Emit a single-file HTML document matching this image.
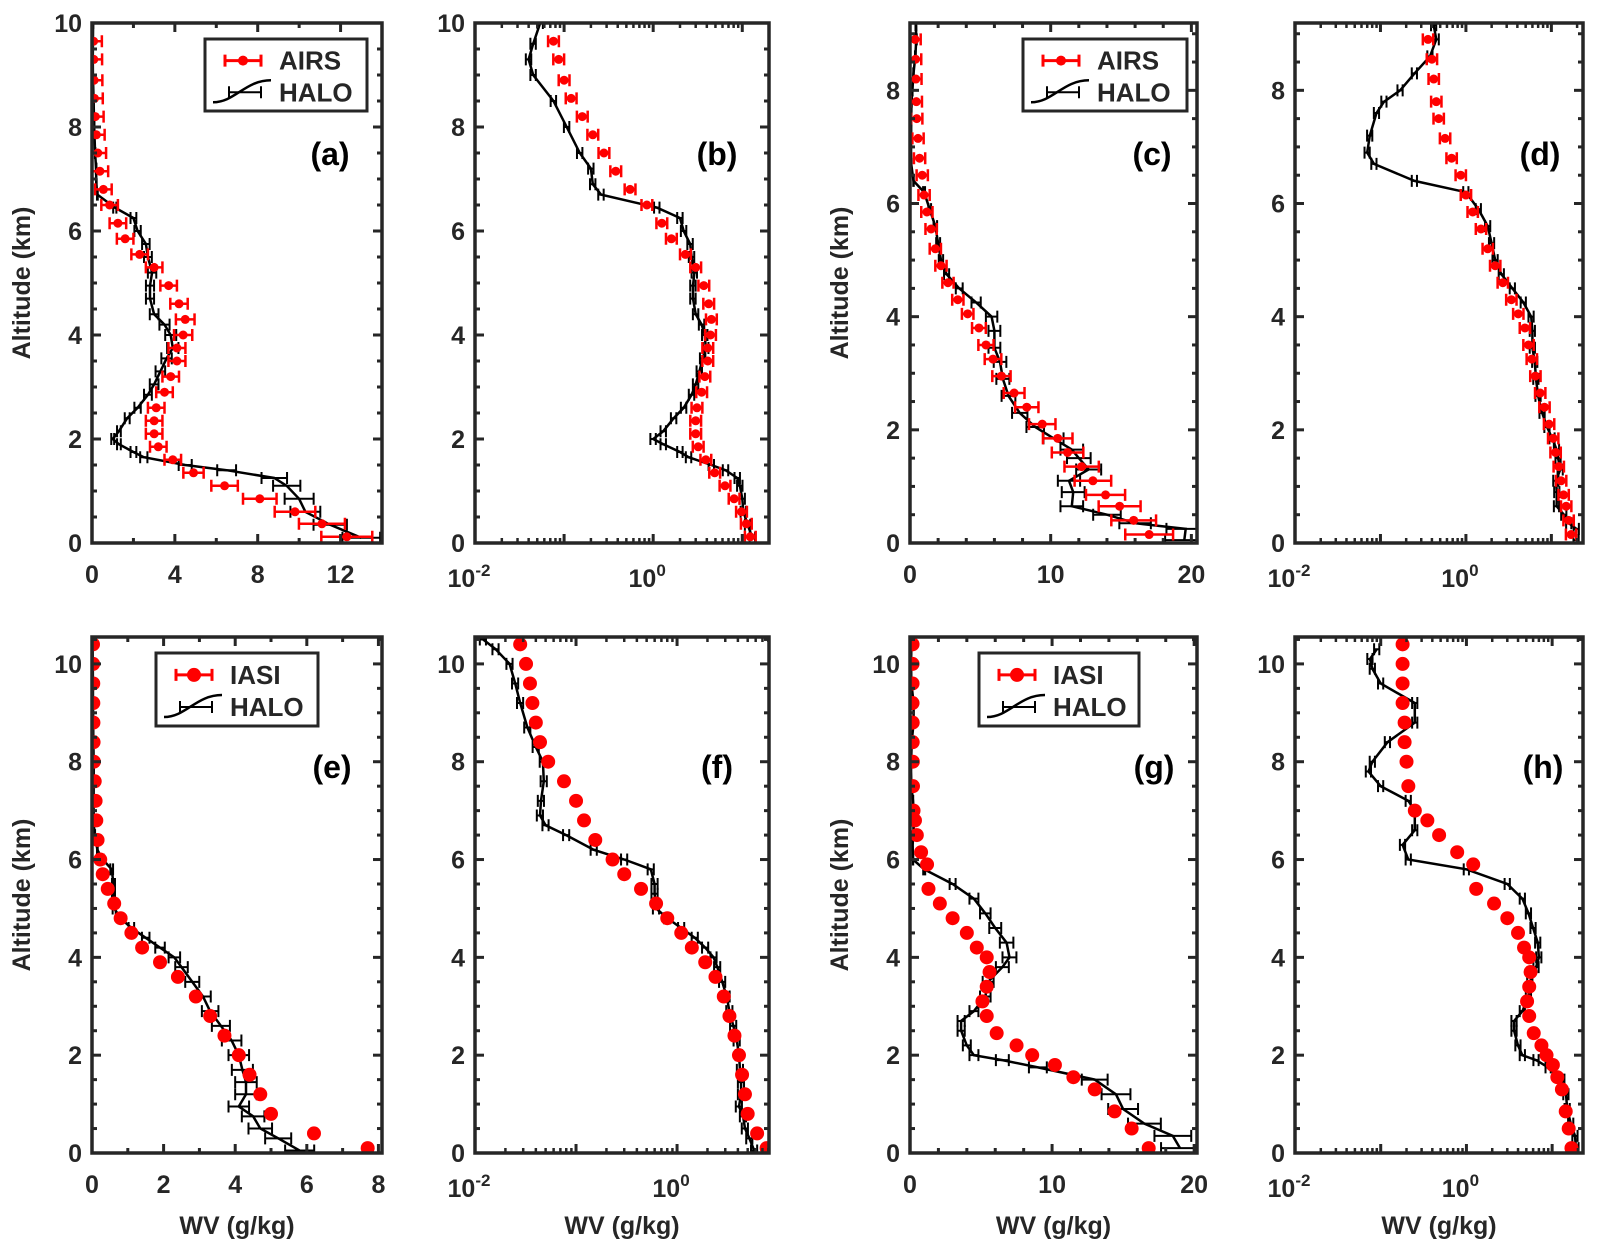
<!DOCTYPE html>
<html><head><meta charset="utf-8"><style>
html,body{margin:0;padding:0;background:#fff}
svg{display:block}
text{font-family:"Liberation Sans",Arial,sans-serif;font-weight:bold;fill:#262626}
</style></head><body>
<svg id="fig" width="1599" height="1256" viewBox="0 0 1599 1256" xmlns="http://www.w3.org/2000/svg"></svg>
<script>
// ---- Dataset 1 (panels a,b): AIRS vs HALO ----
const airs1Alt = [0.12,0.37,0.6,0.85,1.1,1.35,1.6,1.85,2.1,2.35,2.6,2.9,3.2,3.5,3.75,4.0,4.3,4.6,4.95,5.3,5.55,5.85,6.15,6.5,6.8,7.15,7.5,7.85,8.2,8.55,8.9,9.3,9.65];
const airs1Val = [12.3,11.1,9.8,8.1,6.4,4.9,3.9,3.2,3.0,3.0,3.1,3.5,3.8,4.1,4.1,4.4,4.5,4.2,3.7,3.0,2.3,1.6,1.25,0.85,0.55,0.38,0.28,0.21,0.16,0.12,0.1,0.087,0.076];
const halo1Alt = [0.1,0.35,0.6,0.85,1.1,1.25,1.4,1.5,1.65,1.75,1.9,2.0,2.15,2.4,2.6,2.85,3.05,3.3,3.55,3.75,4.0,4.2,4.4,4.7,4.95,5.2,5.5,5.75,6.0,6.25,6.45,6.7,6.9,7.2,7.5,8.0,8.5,9.0,9.3,9.6,10.0];
const halo1Val = [13.0,11.5,10.3,10.0,9.4,8.8,6.5,4.5,2.5,2.0,1.3,1.0,1.3,1.7,2.2,2.7,3.0,3.3,3.6,3.9,3.8,3.5,3.0,2.8,2.8,2.9,2.7,2.6,2.2,2.0,1.1,0.26,0.21,0.2,0.15,0.107,0.076,0.045,0.04,0.045,0.054];
// ---- Dataset 2 (panels c,d): AIRS vs HALO ----
const airs2Alt = [0.15,0.4,0.65,0.85,1.1,1.35,1.6,1.85,2.1,2.4,2.65,2.95,3.25,3.5,3.8,4.05,4.3,4.6,4.9,5.2,5.55,5.85,6.15,6.5,6.8,7.15,7.5,7.8,8.2,8.55,8.9];
const airs2Val = [17.0,15.9,14.9,13.9,13.0,12.2,11.2,10.5,9.4,8.3,7.4,6.5,5.9,5.4,4.9,4.1,3.4,2.7,2.2,1.8,1.5,1.2,1.0,0.87,0.68,0.57,0.48,0.45,0.42,0.4,0.36];
const halo2Alt = [0.05,0.25,0.35,0.5,0.65,0.9,1.1,1.3,1.5,1.65,1.85,2.05,2.3,2.6,2.9,3.2,3.45,3.75,4.0,4.25,4.5,4.75,5.0,5.3,5.6,5.9,6.2,6.4,6.7,6.9,7.2,7.6,7.8,8.0,8.3,8.6,8.9,9.15];
const halo2Val = [19.5,19.6,16.0,14.0,11.5,11.6,11.3,12.7,12.0,11.5,10.2,8.9,7.8,7.0,6.6,6.4,6.0,6.0,5.8,4.7,3.5,2.6,2.2,2.0,1.8,1.4,1.0,0.25,0.084,0.07,0.075,0.09,0.11,0.17,0.25,0.38,0.45,0.42];
// ---- Dataset 3 (panels e,f): IASI vs HALO ----
const iasi3Alt = [0.1,0.4,0.8,1.2,1.6,2.0,2.4,2.8,3.2,3.6,3.9,4.2,4.5,4.8,5.1,5.4,5.7,6.0,6.4,6.8,7.2,7.6,8.0,8.4,8.8,9.2,9.6,10.0,10.4];
const iasi3Val = [7.7,6.2,5.0,4.7,4.4,4.1,3.7,3.3,2.9,2.4,1.9,1.4,1.1,0.8,0.62,0.44,0.3,0.23,0.155,0.12,0.1,0.076,0.053,0.044,0.04,0.037,0.035,0.032,0.028];
const halo3Alt = [0.05,0.3,0.5,0.75,0.95,1.2,1.45,1.7,2.0,2.3,2.6,2.9,3.2,3.5,3.8,4.0,4.2,4.4,4.6,4.8,5.0,5.3,5.5,5.8,6.0,6.2,6.5,6.7,6.9,7.2,7.6,8.0,8.3,8.7,9.2,9.6,10.0,10.3,10.5];
const halo3Val = [5.8,5.2,4.7,4.5,4.1,4.3,4.3,4.2,4.1,3.9,3.6,3.3,3.1,2.8,2.5,2.3,1.9,1.5,1.1,0.8,0.62,0.6,0.6,0.55,0.3,0.15,0.08,0.05,0.044,0.045,0.048,0.047,0.04,0.033,0.028,0.025,0.022,0.016,0.012];
// ---- Dataset 4 (panels g,h): IASI vs HALO ----
const iasi4Alt = [0.1,0.5,0.85,1.3,1.55,1.8,2.0,2.2,2.45,2.8,3.1,3.4,3.7,4.0,4.2,4.5,4.8,5.1,5.4,5.9,6.15,6.5,6.8,7.0,7.5,8.0,8.4,8.8,9.2,9.6,10.0,10.4];
const iasi4Val = [16.8,15.6,14.4,13.0,11.5,10.2,8.6,7.5,6.1,5.4,5.1,5.4,5.6,5.4,4.7,4.0,3.0,2.1,1.3,1.2,0.78,0.48,0.35,0.25,0.21,0.2,0.19,0.19,0.18,0.18,0.18,0.18];
const halo4Alt = [0.1,0.35,0.6,0.9,1.2,1.5,1.75,1.9,2.0,2.2,2.5,2.7,2.9,3.2,3.5,3.8,4.0,4.3,4.6,4.9,5.2,5.5,5.8,6.0,6.3,6.6,7.0,7.2,7.5,7.8,8.0,8.4,8.8,9.2,9.6,9.9,10.1,10.3];
const halo4Val = [19.0,18.5,16.5,15.0,14.5,13.0,9.0,6.5,4.5,4.0,3.6,3.6,4.5,5.3,5.5,6.5,7.0,6.8,6.0,5.3,4.5,3.0,1.0,0.21,0.18,0.25,0.25,0.21,0.1,0.072,0.08,0.12,0.25,0.25,0.1,0.08,0.075,0.09];

const yTicksA = [0,2,4,6,8,10];
const yTicksC = [0,2,4,6,8];
const xTicksA = [0,4,8,12];
const xTicksC = [0,10,20];
const xTicksE = [0,2,4,6,8];
const logTickExp = [-2,0];

const NS='http://www.w3.org/2000/svg';
const svg=document.getElementById('fig');
function mk(tag,attrs,parent){const e=document.createElementNS(NS,tag);for(const k in attrs)e.setAttribute(k,attrs[k]);(parent||svg).appendChild(e);return e;}
const AX='#262626';

const panels=[
 {id:'a',L:92,R:382,T:23,B:543,xmin:0,xmax:14,log:false,ymax:10,yt:yTicksA,xt:xTicksA,xminor:2,ds:[airs1Alt,airs1Val,halo1Alt,halo1Val],sat:'AIRS',lab:[330,154],leg:[205,39,162,72],ylab:true,xlab:false},
 {id:'b',L:475,R:769,T:23,B:543,xmin:-2,xmax:1.3,log:true,ymax:10,yt:yTicksA,ds:[airs1Alt,airs1Val,halo1Alt,halo1Val],sat:'AIRS',lab:[717,154]},
 {id:'c',L:910,R:1197,T:23,B:543,xmin:0,xmax:20.4,log:false,ymax:9.19,yt:yTicksC,xt:xTicksC,xminor:2,ds:[airs2Alt,airs2Val,halo2Alt,halo2Val],sat:'AIRS',lab:[1152,154],leg:[1023,39,164,72],ylab:true},
 {id:'d',L:1295,R:1583,T:23,B:543,xmin:-2,xmax:1.37,log:true,ymax:9.19,yt:yTicksC,ds:[airs2Alt,airs2Val,halo2Alt,halo2Val],sat:'AIRS',lab:[1540,154]},
 {id:'e',L:92,R:382,T:637,B:1153,xmin:0,xmax:8.1,log:false,ymax:10.55,yt:yTicksA,xt:xTicksE,xminor:1,ds:[iasi3Alt,iasi3Val,halo3Alt,halo3Val],sat:'IASI',lab:[332,767],leg:[156,653,162,73],ylab:true,xlab:true},
 {id:'f',L:475,R:769,T:637,B:1153,xmin:-2,xmax:0.91,log:true,ymax:10.55,yt:yTicksA,ds:[iasi3Alt,iasi3Val,halo3Alt,halo3Val],sat:'IASI',lab:[717,767],xlab:true},
 {id:'g',L:910,R:1197,T:637,B:1153,xmin:0,xmax:20.2,log:false,ymax:10.55,yt:yTicksA,xt:xTicksC,xminor:2,ds:[iasi4Alt,iasi4Val,halo4Alt,halo4Val],sat:'IASI',lab:[1154,767],leg:[979,653,160,73],ylab:true,xlab:true},
 {id:'h',L:1295,R:1583,T:637,B:1153,xmin:-2,xmax:1.36,log:true,ymax:10.55,yt:yTicksA,ds:[iasi4Alt,iasi4Val,halo4Alt,halo4Val],sat:'IASI',lab:[1543,767],xlab:true}
];

panels.forEach(p=>{
 const g=mk('g',{});
 
 
 const xs=v=>{const t=p.log?Math.log10(Math.max(v,1e-4)):v;return p.L+(t-p.xmin)/(p.xmax-p.xmin)*(p.R-p.L);};
 const ys=a=>p.B-a/p.ymax*(p.B-p.T);
 const clip='clip'+p.id;
 const cp=mk('clipPath',{id:clip},g);mk('rect',{x:p.L,y:p.T,width:p.R-p.L,height:p.B-p.T},cp);
 const plot=mk('g',{'clip-path':'url(#'+clip+')'},g);
 const yt=mk('g',{},g);
 
 
 for(let a=0;a<=p.ymax+1e-6;a+=0.5){
  const y=ys(a);const major=Math.abs(a/2-Math.round(a/2))<1e-6;const len=major?9:5;
  mk('line',{x1:p.L,x2:p.L+len,y1:y,y2:y,stroke:AX,'stroke-width':3},yt);
  mk('line',{x1:p.R,x2:p.R-len,y1:y,y2:y,stroke:AX,'stroke-width':3},yt);
 }
 p.yt.forEach(v=>{const t=mk('text',{x:p.L-10,y:ys(v)+9,'text-anchor':'end','font-size':25},yt);t.textContent=v;
  
  });
 const xt=mk('g',{},g);
 
 
 if(!p.log){
  for(let v=0;v<=p.xmax+1e-6;v+=p.xminor){const x=xs(v);const major=p.xt.some(t=>Math.abs(t-v)<1e-6);const len=major?9:5;
   mk('line',{x1:x,x2:x,y1:p.B,y2:p.B-len,stroke:AX,'stroke-width':3},xt);
   mk('line',{x1:x,x2:x,y1:p.T,y2:p.T+len,stroke:AX,'stroke-width':3},xt);}
  p.xt.forEach(v=>{const t=mk('text',{x:xs(v),y:p.B+40,'text-anchor':'middle','font-size':25},xt);t.textContent=v;
   
   });
 } else {
  for(let e=Math.floor(p.xmin);e<=Math.ceil(p.xmax);e++){
   for(let m=1;m<10;m++){const v=m*Math.pow(10,e);const lv=Math.log10(v);if(lv<p.xmin-1e-6||lv>p.xmax)continue;
    const x=xs(v);const len=m===1?9:5;
    mk('line',{x1:x,x2:x,y1:p.B,y2:p.B-len,stroke:AX,'stroke-width':m===1?3:2.5},xt);
    mk('line',{x1:x,x2:x,y1:p.T,y2:p.T+len,stroke:AX,'stroke-width':m===1?3:2.5},xt);}
  }
  logTickExp.forEach(e=>{const t=mk('text',{x:xs(Math.pow(10,e))-6,y:p.B+44,'text-anchor':'middle','font-size':25},xt);
   
   
   t.appendChild(document.createTextNode('10'));
   const s=mk('tspan',{dy:-11,'font-size':17},t);s.textContent=String(e);});
 }
 const [sAlt,sVal,hAlt,hVal]=p.ds;
 const hg=mk('g',{},plot);
 
 
 let d='';hAlt.forEach((a,i)=>{d+=(i?'L':'M')+xs(hVal[i]).toFixed(1)+' '+ys(a).toFixed(1);});
 mk('path',{d:d,fill:'none',stroke:'#000','stroke-width':2.5},hg);
 hAlt.forEach((a,i)=>{const v=hVal[i];const e=v*0.07;const y=ys(a);const x1=xs(Math.max(v-e,1e-4)),x2=xs(v+e);
  const b=mk('path',{d:`M${x1} ${y}H${x2}M${x1} ${y-6}V${y+6}M${x2} ${y-6}V${y+6}`,stroke:'#000','stroke-width':2,fill:'none'},hg);
  
  });
 const sg=mk('g',{},plot);
 
 
 sAlt.forEach((a,i)=>{const v=sVal[i];const y=ys(a);const x=xs(v);
  if(p.sat==='AIRS'){
   let x1,x2;
   if(p.log){x1=xs(v*0.87);x2=xs(v*1.15);}
   else{const e=Math.max(0.4,v*0.1);x1=xs(v-e);x2=xs(v+e);}
   const b=mk('path',{d:`M${x1} ${y}H${x2}M${x1} ${y-6}V${y+6}M${x2} ${y-6}V${y+6}`,stroke:'#f00','stroke-width':2.5,fill:'none'},sg);
   
   
   const c=mk('circle',{cx:x,cy:y,r:4.5,fill:'#f00'},sg);
   
   
  } else {
   const c=mk('circle',{cx:x,cy:y,r:7,fill:'#f00'},sg);
   
   
  }});
 const fr=mk('rect',{x:p.L,y:p.T,width:p.R-p.L,height:p.B-p.T,fill:'none',stroke:AX,'stroke-width':3.5},g);
 
 
 const pl=mk('text',{x:p.lab[0],y:p.lab[1]+11,'text-anchor':'middle','font-size':32,style:'fill:#000'},g);
 pl.textContent='('+p.id+')';
 
 
 if(p.ylab){const cy=(p.T+p.B)/2;const cx=p.L-62;
  const t=mk('text',{x:cx,y:cy,'text-anchor':'middle','font-size':25,transform:`rotate(-90 ${cx} ${cy})`},g);t.textContent='Altitude (km)';
  
  }
 if(p.xlab){const t=mk('text',{x:(p.L+p.R)/2,y:1234,'text-anchor':'middle','font-size':25},g);t.textContent='WV (g/kg)';
  
  }
 if(p.leg){const [lx,ly,lw,lh]=p.leg;const lg=mk('g',{},g);
  
  
  mk('rect',{x:lx,y:ly,width:lw,height:lh,fill:'#fff',stroke:AX,'stroke-width':3},lg);
  const r1=ly+lh*0.3,r2=ly+lh*0.74;
  const e1=mk('g',{},lg);
  
  
  mk('path',{d:`M${lx+20} ${r1}H${lx+56}M${lx+20} ${r1-6}V${r1+6}M${lx+56} ${r1-6}V${r1+6}`,stroke:'#f00','stroke-width':3,fill:'none'},e1);
  mk('circle',{cx:lx+38,cy:r1,r:p.sat==='AIRS'?5:7,fill:'#f00'},e1);
  const t1=mk('text',{x:lx+74,y:r1+9,'font-size':26},e1);t1.textContent=p.sat;
  const e2=mk('g',{},lg);
  
  
  mk('path',{d:`M${lx+8} ${r2+10}C${lx+30} ${r2+10} ${lx+40} ${r2-12} ${lx+66} ${r2-12}`,stroke:'#000','stroke-width':2.5,fill:'none'},e2);
  mk('path',{d:`M${lx+24} ${r2}H${lx+56}M${lx+24} ${r2-6}V${r2+6}M${lx+56} ${r2-6}V${r2+6}`,stroke:'#000','stroke-width':2,fill:'none'},e2);
  const t2=mk('text',{x:lx+74,y:r2+9,'font-size':26},e2);t2.textContent='HALO';
 }
});
</script>
</body></html>
